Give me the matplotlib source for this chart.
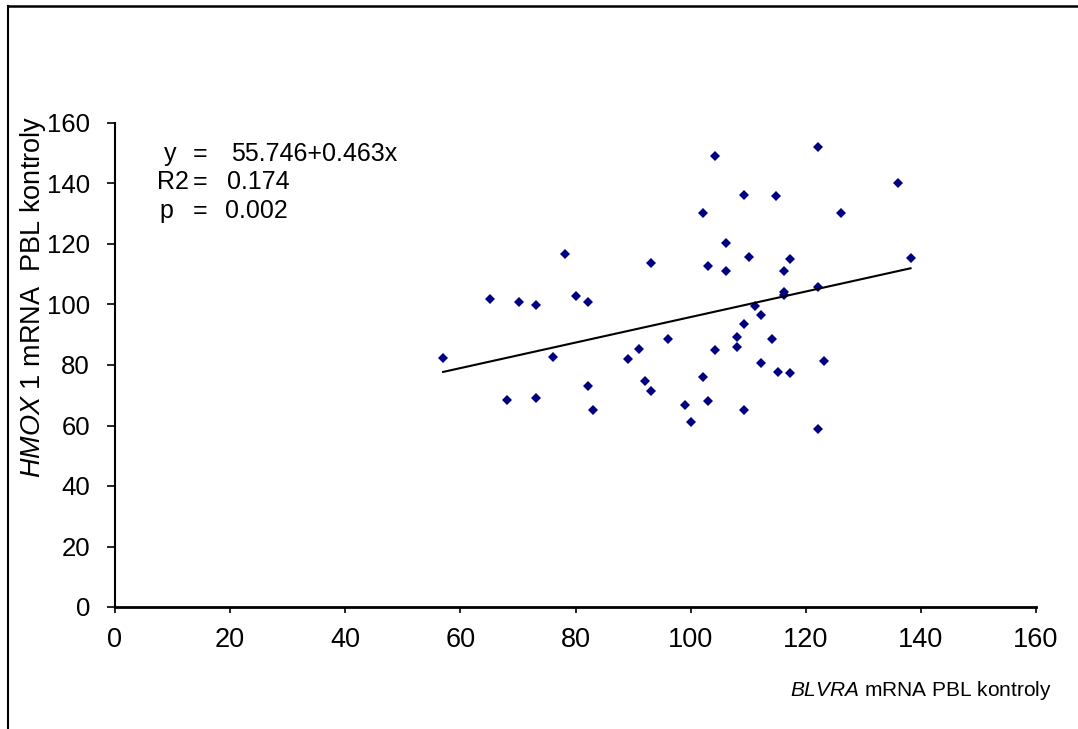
import numpy as np
import matplotlib
matplotlib.use("Agg")
import matplotlib.pyplot as plt
from matplotlib.lines import Line2D

plt.rcParams['font.family'] = ['Liberation Sans', 'DejaVu Sans']
plt.rcParams['mathtext.fontset'] = 'custom'
plt.rcParams['mathtext.rm'] = 'Liberation Sans'
plt.rcParams['mathtext.it'] = 'Liberation Sans:italic'

# BLVRA (x) vs HMOX 1 (y) mRNA, PBL controls
blvra = [57.0, 65.1, 70.1, 73.1, 78.1, 80.1, 82.1, 76.1, 68.1, 73.1, 82.1, 83.1,
         93.1, 89.1, 91.1, 96.1, 92.1, 93.1,
         104.2, 122.2, 136.1, 109.2, 114.8, 102.1, 126.1, 106.2, 110.1, 117.2, 138.2,
         103.1, 106.2, 116.2, 116.2, 116.2, 122.2, 111.2, 112.2, 109.2, 108.1, 114.2,
         108.1, 104.2, 112.2, 123.2, 102.1, 115.1, 117.2, 99.1, 103.1, 100.1, 109.2, 122.2]
hmox1 = [82.3, 101.7, 100.7, 99.9, 116.8, 102.9, 100.7, 82.6, 68.5, 69.0, 73.2, 65.1,
         113.7, 81.9, 85.3, 88.6, 74.7, 71.4,
         149.1, 152.2, 140.1, 136.3, 135.8, 130.2, 130.2, 120.2, 115.7, 114.9, 115.3,
         112.6, 111.0, 111.0, 104.2, 103.1, 105.8, 99.6, 96.6, 93.7, 89.3, 88.6,
         85.8, 85.1, 80.7, 81.2, 75.9, 77.6, 77.4, 66.9, 68.1, 61.0, 65.0, 58.8]

stat_names = ["y", "R2", "p"]
stat_values = ["55.746+0.463x", "0.174", "0.002"]
x_ticks = [0, 20, 40, 60, 80, 100, 120, 140, 160]
y_ticks = [0, 20, 40, 60, 80, 100, 120, 140, 160]

W, H = 1078, 729
fig = plt.figure(figsize=(W/100, H/100), dpi=100)
ax = fig.add_axes([115/W, 1-607/H, (1036-115)/W, (607-123)/H])

ax.plot(blvra, hmox1, linestyle='none', marker='D', markersize=5,
        color='#000080', markeredgewidth=0)

slope, intercept = np.polyfit(blvra, hmox1, 1)
xl = np.array([min(blvra), max(blvra)])
ax.plot(xl, intercept + slope * xl, color='black', lw=1.5)

ax.set_xlim(0, 160)
ax.set_ylim(0, 160)
ax.set_xticks(x_ticks)
ax.set_yticks(y_ticks)
ax.tick_params(axis='x', labelsize=19.5, width=1.2, length=4.5, direction='out', pad=10)
ax.tick_params(axis='y', labelsize=18.5, width=1.2, length=6, direction='out', pad=12)
for s in ['top', 'right']:
    ax.spines[s].set_visible(False)
ax.spines['left'].set_linewidth(1.5)
ax.spines['bottom'].set_linewidth(2)

ax.set_ylabel(r"$\mathit{HMOX\ 1}$ mRNA  PBL kontroly", fontsize=19.5)
ax.yaxis.set_label_coords((33-115)/921, 0.64)
ax.yaxis.label.set_verticalalignment('center')
ax.set_xlabel(r"$\mathit{BLVRA}$ mRNA PBL kontroly", fontsize=15)
ax.xaxis.set_label_coords((1052-115)/921, (607-690)/484)
ax.xaxis.label.set_horizontalalignment('right')
ax.xaxis.label.set_verticalalignment('center')

row_base = [161, 189, 218]
name_x = [164, 157, 159]
val_x = [231, 227, 225]
for nm, vl, ry, nx, vx in zip(stat_names, stat_values, row_base, name_x, val_x):
    fig.text(nx/W, 1-ry/H, nm, fontsize=18, va='baseline', ha='left')
    fig.text(193/W, 1-ry/H, "=", fontsize=18, va='baseline', ha='left')
    fig.text(vx/W, 1-ry/H, vl, fontsize=18, va='baseline', ha='left')

# outer frame (top and left)
fig.add_artist(Line2D([8/W, 1], [1-5.5/H, 1-5.5/H], transform=fig.transFigure,
                      color='black', lw=1.8))
fig.add_artist(Line2D([8/W, 8/W], [0, 1-5.5/H], transform=fig.transFigure,
                      color='black', lw=1.5))

fig.savefig("out.png", dpi=100)
